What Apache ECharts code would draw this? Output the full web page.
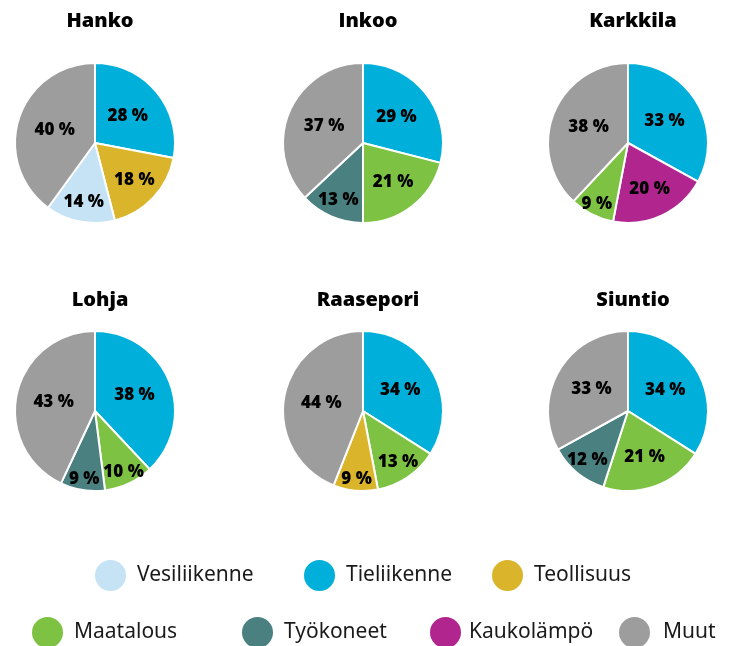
<!DOCTYPE html>
<html>
<head>
<meta charset="utf-8">
<script src="https://cdn.jsdelivr.net/npm/echarts@6/dist/echarts.min.js"></script>
<style>
  html, body { margin: 0; padding: 0; background: #fff; }
  #chart { width: 735px; height: 646px; }
</style>
</head>
<body>
<div id="chart"></div>
<script>
// Municipalities and emission sources
const municipalities = ['Hanko', 'Inkoo', 'Karkkila', 'Lohja', 'Raasepori', 'Siuntio'];
const sources = ['Vesiliikenne', 'Tieliikenne', 'Teollisuus', 'Maatalous', 'Työkoneet', 'Kaukolämpö', 'Muut'];

// Share (%) of each source per municipality, listed clockwise from 12 o'clock
const hankoNames = ['Tieliikenne', 'Teollisuus', 'Vesiliikenne', 'Muut'];
const hankoValues = [28, 18, 14, 40];
const inkooNames = ['Tieliikenne', 'Maatalous', 'Työkoneet', 'Muut'];
const inkooValues = [29, 21, 13, 37];
const karkkilaNames = ['Tieliikenne', 'Kaukolämpö', 'Maatalous', 'Muut'];
const karkkilaValues = [33, 20, 9, 38];
const lohjaNames = ['Tieliikenne', 'Maatalous', 'Työkoneet', 'Muut'];
const lohjaValues = [38, 10, 9, 43];
const raaseporiNames = ['Tieliikenne', 'Maatalous', 'Teollisuus', 'Muut'];
const raaseporiValues = [34, 13, 9, 44];
const siuntioNames = ['Tieliikenne', 'Maatalous', 'Työkoneet', 'Muut'];
const siuntioValues = [34, 21, 12, 33];

const sliceNames = [hankoNames, inkooNames, karkkilaNames, lohjaNames, raaseporiNames, siuntioNames];
const sliceValues = [hankoValues, inkooValues, karkkilaValues, lohjaValues, raaseporiValues, siuntioValues];

const colors = {
  'Vesiliikenne': '#c5e3f5',
  'Tieliikenne': '#00b0da',
  'Teollisuus': '#dab42a',
  'Maatalous': '#7dc242',
  'Työkoneet': '#4a8080',
  'Kaukolämpö': '#b0268e',
  'Muut': '#9d9d9d'
};

const RADIUS = 80;
const centers = [[95, 143], [363, 143], [628, 143], [95, 411], [363, 411], [628, 411]];
const titleTops = [6, 6, 6, 285, 285, 285];
const FONT = '"Noto Sans", sans-serif';
const HEAVY = '"Open Sans", "Noto Sans", sans-serif';

const titles = municipalities.map((m, i) => ({
  text: m,
  left: centers[i][0],
  top: titleTops[i],
  textAlign: 'center',
  textStyle: { fontFamily: HEAVY, fontSize: 20, fontWeight: 800, color: '#000' }
}));

// Percentage labels sit at the middle angle of their slice; narrow slices
// push the label further towards the rim where there is more room.
function placeLabel(params) {
  const s = params.seriesIndex;
  const d = params.dataIndex;
  const vals = sliceValues[s];
  const total = vals.reduce((a, b) => a + b, 0);
  let before = 0;
  for (let k = 0; k < d; k++) before += vals[k];
  const mid = (before + vals[d] / 2) / total * Math.PI * 2;
  const pct = vals[d] / total * 100;
  const f = 0.53 + 0.33 * Math.max(0, Math.min(1, (25 - pct) / 16));
  const [cx, cy] = centers[s];
  return {
    x: cx + Math.sin(mid) * RADIUS * f,
    y: cy - Math.cos(mid) * RADIUS * f,
    align: 'center',
    verticalAlign: 'middle'
  };
}

const series = municipalities.map((m, i) => ({
  type: 'pie',
  name: m,
  center: centers[i],
  radius: RADIUS,
  startAngle: 90,
  clockwise: true,
  animation: false,
  silent: true,
  avoidLabelOverlap: false,
  itemStyle: { borderColor: '#fff', borderWidth: 2 },
  label: {
    show: true,
    position: 'inside',
    formatter: '{c} %',
    fontFamily: HEAVY,
    fontSize: 17,
    fontWeight: 800,
    color: '#000'
  },
  labelLine: { show: false },
  labelLayout: placeLabel,
  data: sliceNames[i].map((n, j) => ({
    name: n,
    value: sliceValues[i][j],
    itemStyle: { color: colors[n] }
  }))
}));

// One legend block per source so each entry sits in its own place
const legendSpots = {
  'Vesiliikenne': [93, 558, 5],
  'Tieliikenne': [302, 558, 5],
  'Teollisuus': [490, 558, 5],
  'Maatalous': [30, 615, 5],
  'Työkoneet': [240, 615, 5],
  'Kaukolämpö': [428, 615, 2],
  'Muut': [617, 615, 7]
};
const legends = sources.map(s => ({
  data: [s],
  left: legendSpots[s][0],
  top: legendSpots[s][1],
  padding: 0,
  icon: 'circle',
  itemWidth: 33,
  itemHeight: 33,
  itemGap: 0,
  selectedMode: false,
  textStyle: {
    fontFamily: FONT,
    fontSize: 21,
    color: '#1a1a1a',
    padding: [0, 0, 0, legendSpots[s][2]]
  }
}));

const chart = echarts.init(document.getElementById('chart'), null, { renderer: 'canvas' });
chart.setOption({
  backgroundColor: '#fff',
  animation: false,
  title: titles,
  legend: legends,
  series: series
});
</script>
</body>
</html>
